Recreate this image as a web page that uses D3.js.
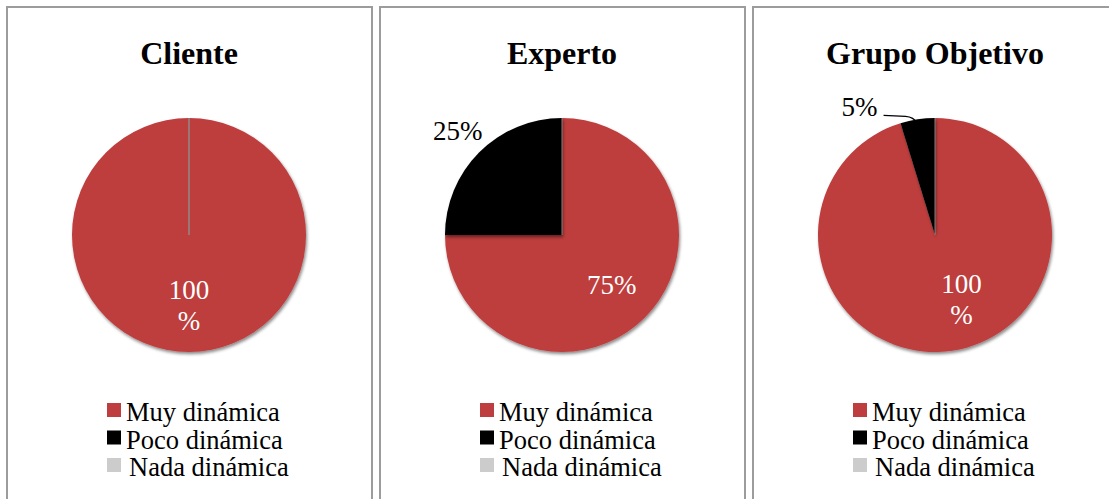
<!DOCTYPE html>
<html>
<head>
<meta charset="utf-8">
<script src="https://cdn.jsdelivr.net/npm/d3@7/dist/d3.min.js"></script>
<style>
  html, body { margin: 0; padding: 0; background: #ffffff; }
  svg { display: block; }
</style>
</head>
<body>
<svg id="chart" width="1109" height="499"></svg>
<script>
// Survey answers: how dynamic each group considers the proposal
const categories = ["Muy dinámica", "Poco dinámica", "Nada dinámica"];
const panelTitles = ["Cliente", "Experto", "Grupo Objetivo"];
const clienteValues = [100, 0, 0];
const expertoValues = [75, 25, 0];
const grupoValues = [100, 5, 0];
const seriesValues = [clienteValues, expertoValues, grupoValues];

const sliceColors = ["#be3d3e", "#000000", "#cccccc"];

const svg = d3.select("#chart");

// soft drop shadow applied to each slice
const defs = svg.append("defs");
const flt = defs.append("filter").attr("id", "sliceShadow")
  .attr("x", "-20%").attr("y", "-20%").attr("width", "140%").attr("height", "140%");
flt.append("feDropShadow")
  .attr("dx", 1.2).attr("dy", 2.2).attr("stdDeviation", 1.6)
  .attr("flood-color", "#000").attr("flood-opacity", 0.45);

const panelX = d3.scaleBand().domain(panelTitles).range([7, 7 + 3 * 373]).paddingInner(0);
const panelW = 365;
const R = 117;
const pieCY = 235;

const color = d3.scaleOrdinal().domain(categories).range(sliceColors);

const pie = d3.pie().sort(null).value(d => d.value);
const arc = d3.arc().innerRadius(0).outerRadius(R);

const serif = "'Liberation Serif', 'Times New Roman', serif";

panelTitles.forEach((title, pi) => {
  const x0 = panelX(title);
  const g = svg.append("g").attr("transform", `translate(${x0},0)`);

  // panel frame
  g.append("rect")
    .attr("x", 0).attr("y", 7)
    .attr("width", panelW).attr("height", 560)
    .attr("fill", "none").attr("stroke", "#9c9c9c").attr("stroke-width", 2);

  const cx = 182;

  g.append("text")
    .attr("x", cx).attr("y", 64)
    .attr("text-anchor", "middle")
    .attr("font-family", serif)
    .attr("font-weight", "bold")
    .attr("font-size", 32)
    .attr("fill", "#000")
    .text(title);

  const data = categories.map((c, i) => ({ category: c, value: seriesValues[pi][i] }));
  const arcs = pie(data);

  const pg = g.append("g").attr("transform", `translate(${cx},${pieCY})`);

  pg.selectAll("path.slice")
    .data(arcs)
    .join("path")
    .attr("class", "slice")
    .attr("d", arc)
    .attr("fill", d => color(d.data.category))
    .attr("filter", "url(#sliceShadow)");

  // empty slices leave only their radial edge
  pg.selectAll("line.empty")
    .data(arcs.filter(d => d.value === 0))
    .join("line")
    .attr("class", "empty")
    .attr("x1", 0).attr("y1", 0)
    .attr("x2", d => Math.sin(d.startAngle) * R)
    .attr("y2", d => -Math.cos(d.startAngle) * R)
    .attr("stroke", "#8f8f8f")
    .attr("stroke-width", 0.9);

  // data labels
  arcs.filter(d => d.value > 0).forEach(d => {
    const mid = (d.startAngle + d.endAngle) / 2;
    const span = d.endAngle - d.startAngle;
    const txt = d.value + "%";
    if (span > Math.PI) {
      // inside label, wrapped when three digits long; nudged away from a thin neighbour
      const gap = 2 * Math.PI - span;
      const ang = gap > 0 && gap < 0.5 ? mid - gap * 0.8 : mid;
      const r = R * 0.6;
      const px = Math.sin(ang) * r, py = -Math.cos(ang) * r;
      const lines = String(d.value).length >= 3 ? [String(d.value), "%"] : [txt];
      const lh = 31;
      const t = pg.append("text")
        .attr("text-anchor", "middle")
        .attr("font-family", serif)
        .attr("font-size", 27)
        .attr("fill", "#ffffff");
      lines.forEach((ln, li) => {
        t.append("tspan")
          .attr("x", px)
          .attr("y", py + 9 + (li - (lines.length - 1) / 2) * lh)
          .text(ln);
      });
    } else if (span > 0.5) {
      // outside label along the slice bisector
      const r = R * 1.26;
      pg.append("text")
        .attr("x", Math.sin(mid) * r)
        .attr("y", -Math.cos(mid) * r + 9)
        .attr("text-anchor", "middle")
        .attr("font-family", serif)
        .attr("font-size", 27)
        .attr("fill", "#000")
        .text(txt);
    } else {
      // narrow slice: label with leader line
      const ex = Math.sin(mid) * R, ey = -Math.cos(mid) * R;
      const lx = ex - 34, ly = ey - 4;
      pg.append("path")
        .attr("d", `M${lx},${ly} L${ex - 12},${ly + 1} Q${ex - 4},${ly + 1.5} ${ex},${ey + 4}`)
        .attr("fill", "none").attr("stroke", "#000").attr("stroke-width", 1.3);
      pg.append("text")
        .attr("x", lx - 6)
        .attr("y", ly + 1)
        .attr("text-anchor", "end")
        .attr("font-family", serif)
        .attr("font-size", 27)
        .attr("fill", "#000")
        .text(txt);
    }
  });

  // legend
  const lg = g.append("g").attr("transform", `translate(${cx - 82},0)`);
  const rowY = d3.scalePoint().domain(categories).range([403, 458]);
  categories.forEach((c, i) => {
    lg.append("rect")
      .attr("x", 0).attr("y", rowY(c))
      .attr("width", 14).attr("height", 14)
      .attr("fill", color(c));
    lg.append("text")
      .attr("x", i === 2 ? 22 : 19)
      .attr("y", rowY(c) + 18)
      .attr("font-family", serif)
      .attr("font-size", 26.5)
      .attr("fill", "#000")
      .text(c);
  });
});
</script>
</body>
</html>
